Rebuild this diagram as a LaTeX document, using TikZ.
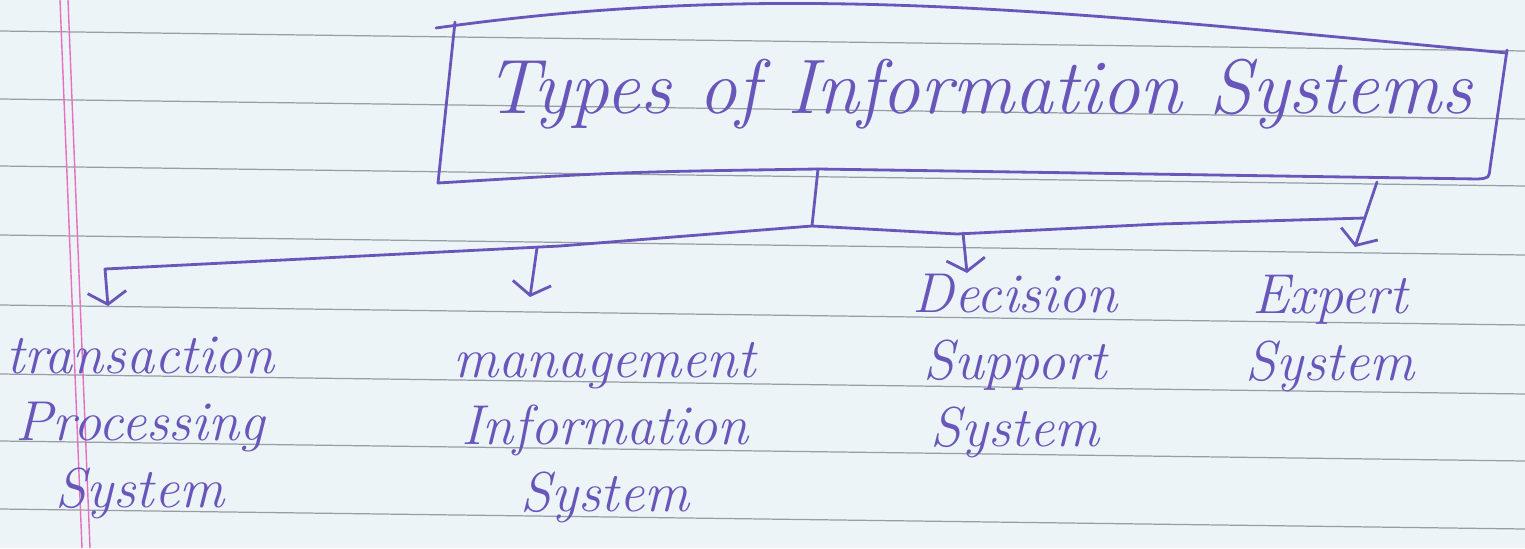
\documentclass[tikz,border=0pt]{standalone}
\usepackage{fontspec}
\usepackage{tikz}
\usetikzlibrary{arrows.meta}
\usetikzlibrary{positioning}

\definecolor{ink}{RGB}{104,86,186}
\definecolor{paper}{RGB}{237,244,248}
\definecolor{ruling}{RGB}{150,158,165}
\definecolor{margin}{RGB}{232,110,190}

\begin{document}
\begin{tikzpicture}[x=0.02cm,y=-0.02cm,>={Straight Barb[length=7pt,width=22pt]},
  ink line/.style={draw=ink,line width=1.6pt,line cap=round,line join=round},
  hand/.style={text=ink,font=\itshape\fontsize{32}{38}\selectfont,align=center,inner sep=0pt},
  title hand/.style={text=ink,font=\itshape\fontsize{44}{50}\selectfont,inner sep=0pt}]

  % ruled page
  \fill[paper] (0,0) rectangle (1525,548);
  \useasboundingbox (0,0) rectangle (1525,548);
  \foreach \y in {31,99,166,235,305,374,441,509}
    \draw[ruling,line width=0.7pt] (0,\y) -- (1525,{\y+20});
  \draw[margin,line width=0.8pt] (60,0) -- (82,548);
  \draw[margin,line width=0.8pt] (68,0) -- (90,548);

  % title and its box
  \node[title hand,anchor=base] (types) at (979,113) {Types of Information Systems};
  \draw[ink line] (455,22) -- (438,183) .. controls (620,172) .. (818,169)
    -- (1478,179) .. controls (1489,178) .. (1490,168) -- (1507,50);
  \draw[ink line] (436,28) .. controls (780,-20) and (1050,10) .. (1507,53);

  % the four kinds (base = last line)
  \node[hand,anchor=base] (tps) at (140,507) {transaction\\Processing\\System};
  \node[hand,anchor=base] (mis) at (605,511) {management\\Information\\System};
  \node[hand,anchor=base] (dss) at (1015,446) {Decision\\Support\\System};
  \node[hand,anchor=base] (es) at (1330,380) {Expert\\System};

  \coordinate (stem) at (818,169);
  \coordinate (junction) at (812,226);
  \coordinate (lbend) at (560,246);
  \coordinate (lcorner) at (105,269);
  \coordinate (tpstip) at (108,306);
  \coordinate (misfoot) at (537,248);
  \coordinate (mistip) at (530,297);
  \coordinate (rbend) at (957,234);
  \coordinate (rmid) at (1160,224);
  \coordinate (rend) at (1365,218);
  \coordinate (dssfoot) at (963,233);
  \coordinate (dsstip) at (967,273);
  \coordinate (estop) at (1377,182);
  \coordinate (estip) at (1355,247);

  \draw[ink line] (stem) -- (junction) -- (rbend) -- (rmid) -- (rend);
  \draw[ink line,->] (junction) -- (lbend) -- (lcorner) -- (tpstip);
  \draw[ink line,->] (misfoot) -- (mistip);
  \draw[ink line,->] (dssfoot) -- (dsstip);
  \draw[ink line,->] (estop) -- (estip);
\end{tikzpicture}
\end{document}
